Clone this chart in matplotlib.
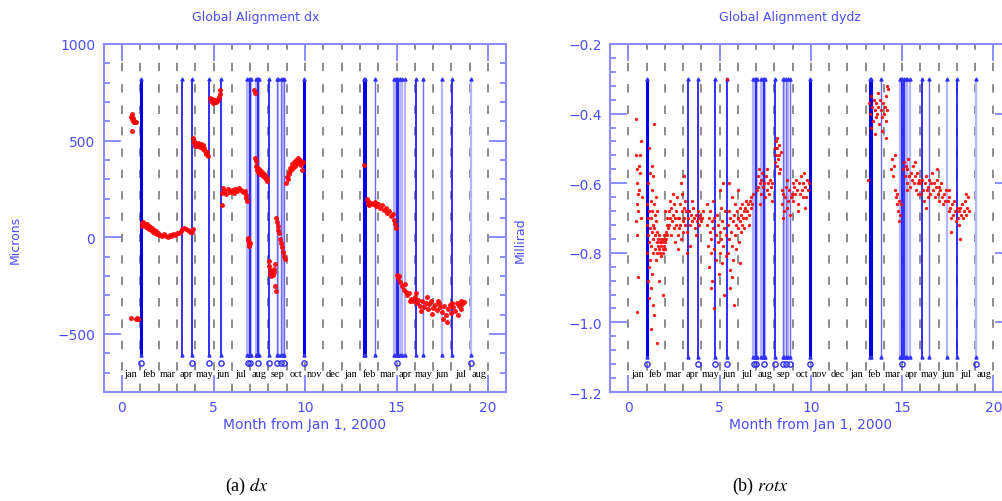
import matplotlib
matplotlib.use("Agg")
import matplotlib.pyplot as plt
from matplotlib.ticker import MultipleLocator

plt.rcParams['mathtext.fontset'] = 'stix'

# month labels along the bottom of each panel
month_names = ['jan', 'feb', 'mar', 'apr', 'may', 'jun', 'jul', 'aug', 'sep', 'oct',
               'nov', 'dec', 'jan', 'feb', 'mar', 'apr', 'may', 'jun', 'jul', 'aug']

# alignment / run-change events (months from Jan 1, 2000)
events_thick = [1.04, 9.97, 13.22, 13.3]
events_dark = [3.3, 3.8, 4.75, 5.42, 6.98, 7.42, 8.03, 15.0, 15.1, 16.07, 18.02]
events_mid = [8.48, 8.67, 8.85, 13.83, 16.46]
events_light = [6.85, 6.92, 7.05, 7.3, 7.36, 7.5, 8.55, 8.78, 14.88, 14.95,
                15.2, 15.3, 15.45, 17.47, 19.05]
circle_months = [1.04, 3.8, 4.75, 5.42, 6.9, 7.02, 7.42, 8.03, 8.48, 8.67, 8.85,
                 9.97, 15.0, 19.05]

# ---- dx (microns) ----
dx_jan = [(0.50, 625), (0.52, 640), (0.55, 610), (0.58, 615), (0.60, 600), (0.63, 598),
          (0.66, 600), (0.70, 595), (0.74, 597), (0.55, 550),
          (0.50, -415), (0.78, -420), (0.82, -418), (0.86, -422), (0.90, -420)]
dx_feb = [(1.08, 75), (1.12, 60), (1.16, 80), (1.2, 65), (1.25, 70), (1.3, 55), (1.35, 68),
          (1.4, 50), (1.45, 60), (1.5, 45), (1.55, 52), (1.6, 40), (1.65, 48), (1.7, 30),
          (1.75, 38), (1.8, 25), (1.85, 32), (1.9, 15), (1.95, 22), (2.0, 10), (2.1, 12),
          (2.2, 5), (2.3, 15), (2.4, 8), (2.5, 2), (2.6, 12), (2.7, 5), (2.8, 18), (2.9, 10),
          (3.0, 25), (3.1, 22), (3.2, 35), (3.3, 42), (3.4, 50), (3.5, 45), (3.6, 38),
          (3.7, 30), (3.8, 28), (3.9, 45)]
dx_apr = [(3.88, 515), (3.92, 490), (3.96, 500), (4.0, 475), (4.05, 485), (4.1, 470),
          (4.15, 490), (4.2, 480), (4.25, 465), (4.3, 485), (4.35, 470), (4.4, 478),
          (4.45, 455), (4.5, 460), (4.55, 445), (4.6, 430), (4.65, 440), (4.7, 420)]
dx_may = [(4.80, 720), (4.85, 705), (4.9, 715), (4.95, 695), (5.0, 710), (5.05, 700),
          (5.1, 712), (5.15, 698), (5.2, 705), (5.25, 715), (5.3, 725), (5.35, 740),
          (5.38, 760)]
dx_jun = [(5.45, 230), (5.5, 255), (5.6, 240), (5.7, 225), (5.8, 250), (5.9, 235),
          (6.0, 245), (6.1, 230), (6.2, 250), (6.3, 240), (6.4, 255), (6.5, 245),
          (6.6, 235), (6.7, 240), (6.75, 220), (6.8, 205), (6.85, 190), (5.45, 165)]
dx_aug = [(6.88, -5), (6.9, -15), (6.92, -25), (6.94, -35), (6.96, -45), (6.98, -30),
          (7.22, 760), (7.25, 745),
          (7.28, 410), (7.3, 395), (7.33, 370), (7.36, 350), (7.4, 365), (7.45, 340),
          (7.5, 355), (7.55, 330), (7.6, 345), (7.65, 320), (7.7, 335), (7.75, 310),
          (7.8, 320), (7.85, 300), (7.9, 290), (7.95, 305)]
dx_sep = [(8.02, -120), (8.05, -150), (8.08, -170), (8.1, -190), (8.13, -200), (8.16, -185),
          (8.2, -175), (8.24, -195), (8.28, -180), (8.32, -165), (8.36, -140), (8.38, -250),
          (8.4, -275),
          (8.42, 100), (8.46, 80), (8.5, 60), (8.55, 40), (8.6, 20), (8.65, -10), (8.7, -30),
          (8.75, -50), (8.8, -75), (8.85, -95), (8.9, -110)]
dx_oct = [(8.95, 280), (9.0, 310), (9.05, 300), (9.1, 340), (9.15, 330), (9.2, 360),
          (9.25, 350), (9.3, 380), (9.35, 360), (9.4, 390), (9.45, 370), (9.5, 400),
          (9.55, 385), (9.6, 410), (9.65, 395), (9.7, 380), (9.75, 400), (9.8, 375),
          (9.85, 350), (9.9, 390)]
dx_2001 = [(13.2, 376),
           (13.38, 200), (13.42, 175), (13.46, 190), (13.5, 165), (13.6, 180), (13.7, 170),
           (13.8, 185), (13.9, 160), (14.0, 175), (14.1, 150), (14.2, 165), (14.3, 140),
           (14.4, 150), (14.5, 125), (14.6, 135), (14.7, 110), (14.8, 120), (14.85, 90),
           (14.9, 70), (14.95, 50)]
dx_late = [(15.05, -195), (15.1, -210), (15.15, -200), (15.2, -230), (15.3, -250),
           (15.4, -270), (15.5, -285), (15.6, -300), (15.7, -290), (15.8, -320),
           (15.9, -330), (16.0, -310), (16.1, -340), (16.2, -325), (16.3, -355),
           (16.4, -330), (16.5, -360), (16.6, -340), (16.7, -370), (16.8, -345),
           (16.9, -330), (17.0, -365), (17.1, -350), (17.2, -375), (17.3, -340),
           (17.4, -360), (17.5, -385), (17.6, -355), (17.7, -400), (17.8, -370),
           (17.9, -350), (18.0, -390), (18.1, -360), (18.2, -380), (18.3, -340),
           (18.4, -355), (18.5, -330), (18.6, -345), (18.7, -335),
           (15.45, -240), (15.75, -330), (16.05, -290), (16.35, -380), (16.65, -310),
           (16.95, -395), (17.25, -330), (17.55, -420), (17.75, -440), (18.05, -340),
           (18.35, -400), (18.55, -370)]

# ---- dydz (millirad) ----
rot_jan = [(0.42, -0.415), (0.45, -0.52), (0.47, -0.56), (0.5, -0.60), (0.52, -0.63),
           (0.48, -0.66), (0.55, -0.68), (0.44, -0.71), (0.5, -0.75), (0.58, -0.55),
           (0.62, -0.52), (0.65, -0.57), (0.6, -0.62), (0.68, -0.70), (0.7, -0.48),
           (0.46, -0.97), (0.53, -0.87), (0.75, -0.64)]
rot_feb = [(1.02, -0.72), (1.04, -0.80), (1.05, -0.66), (1.06, -0.88), (1.08, -0.75),
           (1.1, -0.60), (1.1, -0.70), (1.12, -0.84), (1.13, -0.93), (1.15, -0.68),
           (1.16, -0.77), (1.18, -0.57), (1.2, -0.73), (1.2, -0.82), (1.22, -0.65),
           (1.23, -0.90), (1.25, -0.70), (1.27, -0.78), (1.28, -0.62), (1.3, -0.74),
           (1.3, -0.86), (1.32, -0.68), (1.34, -0.80), (1.35, -0.58), (1.36, -0.72),
           (1.38, -0.76), (1.4, -0.66), (1.4, -0.98), (1.42, -0.73), (1.43, -0.43),
           (1.45, -0.79), (1.46, -0.69), (1.48, -0.75), (1.5, -0.64), (1.5, -0.82),
           (1.52, -0.71), (1.55, -0.77), (1.56, -0.68), (1.58, -0.74), (1.6, -0.80),
           (1.25, -1.02), (1.55, -1.06), (1.35, -0.95), (1.15, -0.50), (1.28, -0.55)]
rot_mar = [(1.62, -0.76), (1.65, -0.78), (1.68, -0.75), (1.7, -0.79), (1.72, -0.77),
           (1.75, -0.80), (1.78, -0.76), (1.8, -0.78), (1.82, -0.81), (1.85, -0.77),
           (1.88, -0.79), (1.9, -0.76), (1.92, -0.80), (1.95, -0.78), (1.98, -0.75),
           (2.0, -0.77), (2.02, -0.79), (2.05, -0.74), (2.08, -0.76), (2.1, -0.72),
           (2.12, -0.75), (2.15, -0.70), (2.18, -0.73), (1.7, -0.88), (1.9, -0.92),
           (2.0, -0.68),
           (2.22, -0.68), (2.25, -0.72), (2.28, -0.65), (2.3, -0.70), (2.33, -0.75),
           (2.36, -0.67), (2.4, -0.71), (2.43, -0.63), (2.46, -0.69), (2.5, -0.73),
           (2.52, -0.66), (2.55, -0.70), (2.58, -0.77), (2.6, -0.68), (2.63, -0.72),
           (2.66, -0.64), (2.7, -0.70), (2.72, -0.75), (2.75, -0.79), (2.78, -0.73),
           (2.8, -0.70), (2.83, -0.66), (2.86, -0.72), (2.9, -0.76), (2.92, -0.68),
           (2.95, -0.63), (2.98, -0.71), (3.0, -0.74), (3.03, -0.67), (3.06, -0.70),
           (3.1, -0.65), (3.13, -0.72), (3.16, -0.68), (3.2, -0.74), (3.22, -0.80),
           (2.9, -0.60), (3.05, -0.58)]
rot_apr = [(3.3, -0.70), (3.35, -0.68), (3.4, -0.72), (3.45, -0.69), (3.5, -0.71),
           (3.55, -0.67), (3.6, -0.70), (3.65, -0.73), (3.7, -0.69), (3.75, -0.71),
           (3.82, -0.68), (3.86, -0.70), (3.9, -0.72), (3.95, -0.69), (4.0, -0.71),
           (4.05, -0.70), (4.1, -0.68), (3.5, -0.65), (3.7, -0.75), (3.4, -0.78)]
rot_may = [(4.3, -0.66), (4.33, -0.72), (4.36, -0.78), (4.4, -0.70), (4.43, -0.84),
           (4.46, -0.74), (4.5, -0.68), (4.52, -0.80), (4.55, -0.76), (4.58, -0.71),
           (4.6, -0.88), (4.63, -0.73), (4.66, -0.65), (4.7, -0.79), (4.72, -0.70),
           (4.8, -0.75), (4.83, -0.82), (4.86, -0.69), (4.9, -0.77), (4.93, -0.72),
           (4.96, -0.86), (5.0, -0.74), (5.03, -0.80), (5.06, -0.67), (5.1, -0.76),
           (5.13, -0.83), (5.16, -0.71), (5.2, -0.78), (5.23, -0.92), (5.26, -0.73),
           (5.3, -0.68), (5.33, -0.81), (5.36, -0.75), (4.7, -0.96), (5.0, -0.62),
           (5.2, -0.60), (5.39, -0.30), (4.55, -0.90)]
rot_jun = [(5.45, -0.72), (5.48, -0.80), (5.5, -0.68), (5.53, -0.76), (5.56, -0.85),
           (5.6, -0.70), (5.63, -0.74), (5.66, -0.64), (5.7, -0.78), (5.73, -0.71),
           (5.76, -0.82), (5.8, -0.69), (5.83, -0.75), (5.86, -0.66), (5.9, -0.72),
           (5.93, -0.79), (5.96, -0.68), (6.0, -0.73), (6.03, -0.70), (6.06, -0.77),
           (6.1, -0.67), (6.13, -0.71), (6.16, -0.74), (6.2, -0.69), (6.23, -0.72),
           (6.26, -0.66), (6.3, -0.70), (6.33, -0.68), (6.36, -0.73), (6.4, -0.67),
           (6.43, -0.70), (6.46, -0.65), (5.6, -0.90), (5.8, -0.95), (5.5, -0.60),
           (6.0, -0.62), (5.7, -0.87), (6.1, -0.83),
           (6.5, -0.68), (6.55, -0.66), (6.6, -0.69), (6.65, -0.65), (6.7, -0.67),
           (6.75, -0.64), (6.8, -0.66), (6.85, -0.63), (6.6, -0.72)]
rot_aug = [(7.05, -0.62), (7.1, -0.58), (7.13, -0.61), (7.16, -0.56), (7.2, -0.60),
           (7.25, -0.63), (7.3, -0.59), (7.35, -0.57), (7.4, -0.61), (7.45, -0.60),
           (7.5, -0.64), (7.55, -0.58), (7.6, -0.62), (7.65, -0.60), (7.7, -0.63),
           (7.75, -0.59), (7.8, -0.61), (7.85, -0.65), (7.9, -0.60), (7.2, -0.66),
           (7.6, -0.56),
           (8.02, -0.50), (8.05, -0.54), (8.08, -0.48), (8.1, -0.52), (8.13, -0.55),
           (8.16, -0.50), (8.2, -0.53), (8.24, -0.49), (8.28, -0.52), (8.32, -0.56),
           (8.36, -0.51), (8.15, -0.47), (8.25, -0.57)]
rot_sep = [(8.4, -0.62), (8.45, -0.66), (8.5, -0.63), (8.55, -0.68), (8.6, -0.64),
           (8.65, -0.61), (8.7, -0.67), (8.75, -0.65), (8.8, -0.62), (8.85, -0.69),
           (8.9, -0.64), (8.5, -0.70), (8.7, -0.59),
           (8.95, -0.63), (9.0, -0.60), (9.05, -0.65), (9.1, -0.61), (9.15, -0.63),
           (9.2, -0.59), (9.25, -0.62), (9.3, -0.66), (9.35, -0.60), (9.4, -0.63),
           (9.45, -0.58), (9.5, -0.62), (9.55, -0.64), (9.6, -0.60), (9.65, -0.57),
           (9.7, -0.61), (9.75, -0.64), (9.8, -0.59), (9.85, -0.62), (9.9, -0.60),
           (9.3, -0.68), (9.7, -0.67)]
rot_2001 = [(13.12, -0.59),
            (13.2, -0.37), (13.25, -0.40), (13.3, -0.35), (13.35, -0.38), (13.4, -0.42),
            (13.45, -0.36), (13.5, -0.39), (13.55, -0.41), (13.6, -0.37), (13.65, -0.40),
            (13.7, -0.38), (13.75, -0.43), (13.8, -0.36), (13.85, -0.39), (13.9, -0.41),
            (13.95, -0.37), (14.0, -0.40), (14.05, -0.38), (14.1, -0.35), (14.15, -0.42),
            (14.2, -0.39), (14.25, -0.33), (13.5, -0.46), (13.9, -0.45), (14.1, -0.47),
            (14.2, -0.32), (13.3, -0.44), (13.7, -0.34),
            (14.4, -0.56), (14.45, -0.53), (14.5, -0.58), (14.55, -0.55), (14.6, -0.62),
            (14.65, -0.64), (14.7, -0.66), (14.75, -0.63), (14.8, -0.68), (14.85, -0.65),
            (14.9, -0.69), (14.95, -0.66), (14.85, -0.71), (14.6, -0.52)]
rot_late = [(15.05, -0.56), (15.1, -0.54), (15.15, -0.58), (15.2, -0.55), (15.25, -0.60),
            (15.3, -0.56), (15.35, -0.53), (15.4, -0.58), (15.45, -0.61), (15.5, -0.57),
            (15.55, -0.59), (15.6, -0.55), (15.65, -0.60), (15.7, -0.58), (15.75, -0.62),
            (15.8, -0.57), (15.85, -0.60), (15.9, -0.63), (15.95, -0.59), (15.3, -0.62),
            (15.7, -0.54),
            (16.0, -0.60), (16.05, -0.63), (16.1, -0.59), (16.15, -0.62), (16.2, -0.65),
            (16.25, -0.60), (16.3, -0.58), (16.35, -0.62), (16.4, -0.64), (16.45, -0.61),
            (16.5, -0.59), (16.55, -0.63), (16.6, -0.60), (16.65, -0.57), (16.7, -0.62),
            (16.75, -0.60), (16.8, -0.64), (16.85, -0.61), (16.9, -0.59), (16.95, -0.63),
            (17.0, -0.61), (17.05, -0.65), (17.1, -0.62), (17.15, -0.60), (17.2, -0.64),
            (17.25, -0.66), (17.3, -0.63), (17.35, -0.65), (17.4, -0.62), (16.3, -0.67),
            (16.9, -0.56),
            (17.5, -0.65), (17.55, -0.68), (17.6, -0.64), (17.65, -0.67), (17.7, -0.70),
            (17.75, -0.66), (17.8, -0.69), (17.85, -0.65), (17.9, -0.68), (17.95, -0.71),
            (18.0, -0.67), (18.05, -0.70), (18.1, -0.68), (18.15, -0.72), (18.2, -0.67),
            (18.25, -0.69), (18.3, -0.66), (18.35, -0.70), (18.4, -0.68), (18.45, -0.65),
            (18.5, -0.69), (18.55, -0.67), (18.6, -0.64), (18.65, -0.68), (17.7, -0.74),
            (18.2, -0.76), (17.6, -0.62), (18.5, -0.63)]

dx_points = dx_jan + dx_feb + dx_apr + dx_may + dx_jun + dx_aug + dx_sep + dx_oct + dx_2001 + dx_late
rot_points = rot_jan + rot_feb + rot_mar + rot_apr + rot_may + rot_jun + rot_aug + rot_sep + rot_2001 + rot_late

axis_blue = '#8c8cff'
text_blue = '#4d4dff'

fig = plt.figure(figsize=(10.02, 5.02), dpi=100)
ax1 = fig.add_axes([103.7 / 1002, 1 - 393 / 502, 402.6 / 1002, 348 / 502])
ax2 = fig.add_axes([610 / 1002, 1 - 393 / 502, 401.5 / 1002, 348 / 502])


def draw_panel(ax, points, ylim, major, minor, ev_top, ev_bot, circ_y, lab_y, msize):
    ax.set_xlim(-1, 21)
    ax.set_ylim(*ylim)

    # month boundaries
    for m in range(0, 21):
        ax.axvline(m, color='#6e6e6e', lw=1.1, dashes=(5.5, 8.5), zorder=1)

    # event lines
    ax.vlines(events_light, ev_bot, ev_top, color='#b4b4ff', lw=1.6, zorder=2)
    ax.vlines(events_mid, ev_bot, ev_top, color='#6a6aff', lw=1.0, zorder=3)
    ax.vlines(events_dark, ev_bot, ev_top, color='#2020ff', lw=1.3, zorder=3)
    ax.vlines(events_thick, ev_bot, ev_top, color='#0000e6', lw=2.2, zorder=3)
    all_ev = events_thick + events_dark + events_mid + events_light
    ax.plot(all_ev, [ev_top] * len(all_ev), ls='none', marker='^', ms=2.2,
            color='#3030ff', zorder=4)
    ax.plot(all_ev, [ev_bot] * len(all_ev), ls='none', marker='^', ms=2.2,
            color='#3030ff', zorder=4)
    ax.plot(circle_months, [circ_y] * len(circle_months), ls='none', marker='o',
            ms=3.8, mfc='none', mec='#3030ff', mew=1.0, zorder=4)

    for i, name in enumerate(month_names):
        ax.text(i + 0.5, lab_y, name, ha='center', va='center', fontsize=7.5,
                family='Liberation Serif', color='black', zorder=5)

    xs = [p[0] for p in points]
    ys = [p[1] for p in points]
    ax.plot(xs, ys, ls='none', marker='o', ms=msize, color='#ff0000',
            mec='none', alpha=0.9, zorder=6)

    ax.xaxis.set_major_locator(MultipleLocator(5))
    ax.yaxis.set_major_locator(MultipleLocator(major))
    ax.yaxis.set_minor_locator(MultipleLocator(minor))
    ax.tick_params(which='both', direction='in', top=True, right=True,
                   color=axis_blue, labelcolor=text_blue, labelsize=10, width=1.4)
    ax.tick_params(which='major', length=12, pad=6)
    ax.tick_params(which='minor', length=4.5)
    for s in ax.spines.values():
        s.set_color(axis_blue)
        s.set_linewidth(1.5)
    ax.set_xlabel('Month from Jan 1, 2000', color=text_blue, fontsize=10, labelpad=2)


draw_panel(ax1, dx_points, (-800, 1000), 500, 100, 820, -608, -650, -703, 3.6)
draw_panel(ax2, rot_points, (-1.2, -0.2), 0.2, 0.04, -0.30, -1.10, -1.12, -1.148, 2.4)

fig.text(256 / 1002, 1 - 17 / 502, 'Global Alignment dx', color=text_blue,
         fontsize=9, ha='center', va='center')
fig.text(790 / 1002, 1 - 17 / 502, 'Global Alignment dydz', color=text_blue,
         fontsize=9, ha='center', va='center')
fig.text(15 / 1002, 1 - 240 / 502, 'Microns', color=text_blue, fontsize=9,
         rotation=90, ha='center', va='center')
fig.text(520 / 1002, 1 - 240 / 502, 'Millirad', color=text_blue, fontsize=9,
         rotation=90, ha='center', va='center')

fig.text(247 / 1002, 1 - 486 / 502, r'(a) $dx$', fontsize=13,
         family='Liberation Serif', ha='center', va='center')
fig.text(760 / 1002, 1 - 486 / 502, r'(b) $rotx$', fontsize=13,
         family='Liberation Serif', ha='center', va='center')

fig.savefig('out.png', dpi=100)
